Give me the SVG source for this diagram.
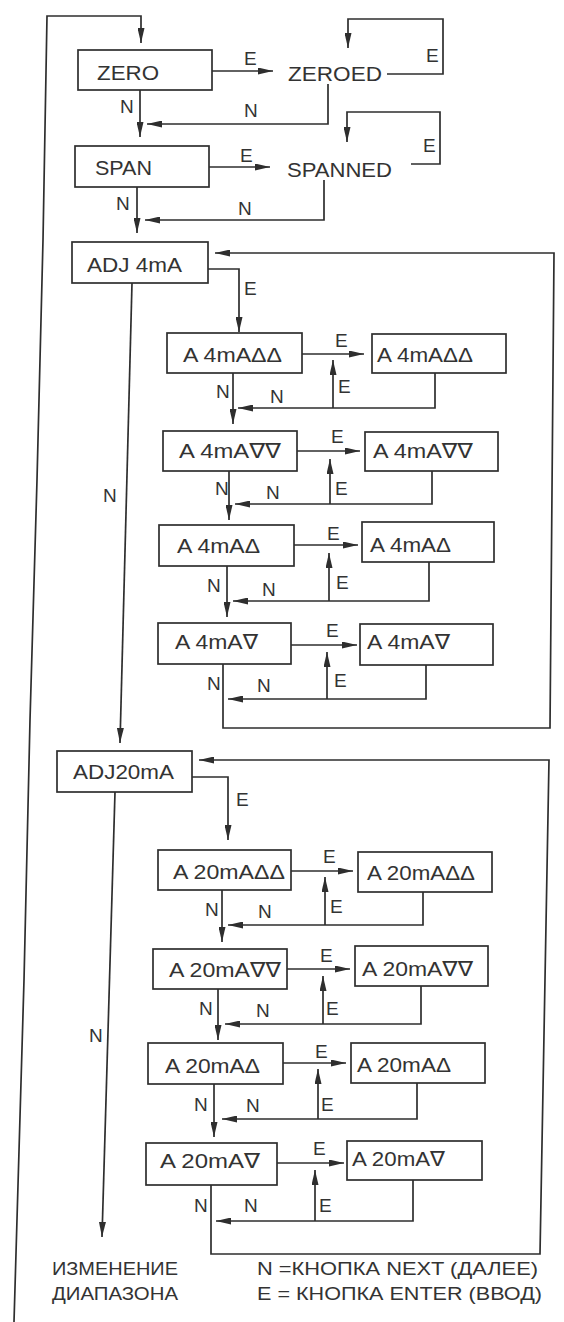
<svg xmlns="http://www.w3.org/2000/svg" width="564" height="1322" viewBox="0 0 564 1322">
<style>
  .bg { fill: #ffffff; }
  .box { fill: #ffffff; stroke: #2e2e2e; stroke-width: 1.7; }
  .t { font-family: "Liberation Sans", "DejaVu Sans", Arial, sans-serif; font-size: 21px; fill: #333333; }
  .lb { font-family: "Liberation Sans", "DejaVu Sans", Arial, sans-serif; font-size: 19px; fill: #333333; }
  .ft { font-family: "Liberation Sans", "DejaVu Sans", Arial, sans-serif; font-size: 19px; fill: #333333; }
  .c { fill: none; stroke: #2e2e2e; stroke-width: 1.7; }
  .a { fill: none; stroke: #2e2e2e; stroke-width: 1.7; marker-end: url(#arr); }
</style>
<defs>
  <marker id="arr" markerUnits="userSpaceOnUse" markerWidth="15" markerHeight="7" refX="15" refY="3.5" orient="auto">
    <path d="M0,0 L15,3.5 L0,7 z" fill="#2e2e2e"/>
  </marker>
</defs>
<rect class="bg" x="0" y="0" width="564" height="1322"/>

<g id="connectors">
  <!-- outer loop back to ZERO -->
  <path class="a" d="M14,1322 L24,980 L30,720 L37,480 L43,240 L47,16 L141,16 L141,43"/>
  <!-- ZERO / ZEROED -->
  <path class="a" d="M212,71 L273,71"/>
  <path class="a" d="M387,74 L443,74 L443,19 L348,19 L348,48"/>
  <path class="a" d="M328,84 L328,124 L147,124"/>
  <path class="a" d="M140,90 L140,137"/>
  <!-- SPAN / SPANNED -->
  <path class="a" d="M209,167 L270,167"/>
  <path class="a" d="M411,164 L440,164 L440,112 L347,112 L347,142"/>
  <path class="a" d="M324,180 L324,220 L145,220"/>
  <path class="a" d="M137,187 L137,233"/>
  <!-- ADJ 4mA -->
  <path class="a" d="M208,269 L239,269 L239,332"/>
  <path class="a" d="M132,283 L120,743"/>
  <path class="a" d="M223,664 L223,728 L550,728 L554,253 L215,253"/>
  <!-- 4mA row 1 -->
  <path class="a" d="M302,354 L364,354"/>
  <path class="a" d="M435,373 L435,408 L238,408"/>
  <path class="a" d="M333,408 L333,360"/>
  <path class="a" d="M233,373 L233,424"/>
  <!-- 4mA row 2 -->
  <path class="a" d="M297,451 L360,451"/>
  <path class="a" d="M432,471 L432,504 L235,504"/>
  <path class="a" d="M330,504 L330,459"/>
  <path class="a" d="M229,471 L229,520"/>
  <!-- 4mA row 3 -->
  <path class="a" d="M294,545 L358,545"/>
  <path class="a" d="M429,562 L429,601 L233,601"/>
  <path class="a" d="M329,601 L329,553"/>
  <path class="a" d="M227,566 L227,617"/>
  <!-- 4mA row 4 -->
  <path class="a" d="M291,645 L357,645"/>
  <path class="a" d="M426,665 L426,699 L228,699"/>
  <path class="a" d="M327,699 L327,652"/>
  <!-- ADJ20mA -->
  <path class="a" d="M192,777 L228,777 L228,840"/>
  <path class="a" d="M115,792 L102,1237"/>
  <path class="a" d="M211,1185 L211,1254 L540,1254 L549,760 L199,760"/>
  <!-- 20mA row 1 -->
  <path class="a" d="M291,871 L353,871"/>
  <path class="a" d="M423,892 L423,925 L228,925"/>
  <path class="a" d="M325,925 L325,877"/>
  <path class="a" d="M222,890 L222,942"/>
  <!-- 20mA row 2 -->
  <path class="a" d="M287,969 L350,969"/>
  <path class="a" d="M421,986 L421,1024 L225,1024"/>
  <path class="a" d="M323,1024 L323,976"/>
  <path class="a" d="M218,989 L218,1040"/>
  <!-- 20mA row 3 -->
  <path class="a" d="M283,1063 L346,1063"/>
  <path class="a" d="M417,1083 L417,1119 L222,1119"/>
  <path class="a" d="M318,1119 L318,1069"/>
  <path class="a" d="M214,1084 L214,1137"/>
  <!-- 20mA row 4 -->
  <path class="a" d="M277,1163 L344,1163"/>
  <path class="a" d="M413,1180 L413,1221 L216,1221"/>
  <path class="a" d="M315,1221 L315,1170"/>
</g>

<g id="connector-labels">
  <text class="lb" x="244" y="65">E</text>
  <text class="lb" x="426" y="62">E</text>
  <text class="lb" x="120" y="113">N</text>
  <text class="lb" x="244" y="117">N</text>
  <text class="lb" x="240" y="162">E</text>
  <text class="lb" x="423" y="152">E</text>
  <text class="lb" x="116" y="210">N</text>
  <text class="lb" x="238" y="215">N</text>
  <text class="lb" x="244" y="295">E</text>
  <text class="lb" x="103" y="502">N</text>
  <text class="lb" x="335" y="347">E</text>
  <text class="lb" x="338" y="393">E</text>
  <text class="lb" x="216" y="398">N</text>
  <text class="lb" x="270" y="403">N</text>
  <text class="lb" x="331" y="443">E</text>
  <text class="lb" x="335" y="495">E</text>
  <text class="lb" x="215" y="495">N</text>
  <text class="lb" x="266" y="499">N</text>
  <text class="lb" x="327" y="540">E</text>
  <text class="lb" x="336" y="589">E</text>
  <text class="lb" x="207" y="592">N</text>
  <text class="lb" x="262" y="596">N</text>
  <text class="lb" x="326" y="637">E</text>
  <text class="lb" x="334" y="687">E</text>
  <text class="lb" x="207" y="690">N</text>
  <text class="lb" x="257" y="692">N</text>
  <text class="lb" x="236" y="806">E</text>
  <text class="lb" x="89" y="1042">N</text>
  <text class="lb" x="323" y="863">E</text>
  <text class="lb" x="330" y="913">E</text>
  <text class="lb" x="205" y="916">N</text>
  <text class="lb" x="258" y="918">N</text>
  <text class="lb" x="320" y="962">E</text>
  <text class="lb" x="326" y="1015">E</text>
  <text class="lb" x="199" y="1015">N</text>
  <text class="lb" x="256" y="1017">N</text>
  <text class="lb" x="315" y="1058">E</text>
  <text class="lb" x="321" y="1111">E</text>
  <text class="lb" x="194" y="1111">N</text>
  <text class="lb" x="246" y="1112">N</text>
  <text class="lb" x="313" y="1155">E</text>
  <text class="lb" x="319" y="1212">E</text>
  <text class="lb" x="194" y="1212">N</text>
  <text class="lb" x="244" y="1212">N</text>
</g>

<g id="n-zero"><rect class="box" x="78" y="50" width="134" height="40"/><text class="t" x="97" y="80" textLength="62" lengthAdjust="spacingAndGlyphs">ZERO</text></g>
<g id="n-zeroed"><text class="t" x="288" y="81" textLength="94" lengthAdjust="spacingAndGlyphs">ZEROED</text></g>
<g id="n-span"><rect class="box" x="75" y="146" width="134" height="41"/><text class="t" x="95" y="175" textLength="57" lengthAdjust="spacingAndGlyphs">SPAN</text></g>
<g id="n-spanned"><text class="t" x="287" y="177" textLength="105" lengthAdjust="spacingAndGlyphs">SPANNED</text></g>
<g id="n-adj4"><rect class="box" x="72" y="242" width="136" height="41"/><text class="t" x="87" y="272" textLength="95" lengthAdjust="spacingAndGlyphs">ADJ 4mA</text></g>

<g id="n-4uu-l"><rect class="box" x="167" y="333" width="135" height="40"/><text class="t" x="183" y="362" textLength="99" lengthAdjust="spacingAndGlyphs">A 4mAΔΔ</text></g>
<g id="n-4uu-r"><rect class="box" x="372" y="334" width="134" height="39"/><text class="t" x="377" y="362" textLength="96" lengthAdjust="spacingAndGlyphs">A 4mAΔΔ</text></g>
<g id="n-4dd-l"><rect class="box" x="163" y="431" width="134" height="40"/><text class="t" x="179" y="458" textLength="102" lengthAdjust="spacingAndGlyphs">A 4mA∇∇</text></g>
<g id="n-4dd-r"><rect class="box" x="365" y="432" width="133" height="39"/><text class="t" x="373" y="458" textLength="100" lengthAdjust="spacingAndGlyphs">A 4mA∇∇</text></g>
<g id="n-4u-l"><rect class="box" x="159" y="525" width="135" height="41"/><text class="t" x="177" y="553" textLength="83" lengthAdjust="spacingAndGlyphs">A 4mAΔ</text></g>
<g id="n-4u-r"><rect class="box" x="362" y="522" width="132" height="40"/><text class="t" x="370" y="552" textLength="81" lengthAdjust="spacingAndGlyphs">A 4mAΔ</text></g>
<g id="n-4d-l"><rect class="box" x="158" y="623" width="133" height="41"/><text class="t" x="175" y="649" textLength="83" lengthAdjust="spacingAndGlyphs">A 4mA∇</text></g>
<g id="n-4d-r"><rect class="box" x="360" y="624" width="133" height="41"/><text class="t" x="367" y="649" textLength="83" lengthAdjust="spacingAndGlyphs">A 4mA∇</text></g>

<g id="n-adj20"><rect class="box" x="57" y="751" width="135" height="41"/><text class="t" x="73" y="779" textLength="101" lengthAdjust="spacingAndGlyphs">ADJ20mA</text></g>

<g id="n-20uu-l"><rect class="box" x="158" y="850" width="133" height="40"/><text class="t" x="173" y="879" textLength="112" lengthAdjust="spacingAndGlyphs">A 20mAΔΔ</text></g>
<g id="n-20uu-r"><rect class="box" x="358" y="852" width="134" height="40"/><text class="t" x="367" y="880" textLength="108" lengthAdjust="spacingAndGlyphs">A 20mAΔΔ</text></g>
<g id="n-20dd-l"><rect class="box" x="153" y="949" width="134" height="40"/><text class="t" x="169" y="977" textLength="112" lengthAdjust="spacingAndGlyphs">A 20mA∇∇</text></g>
<g id="n-20dd-r"><rect class="box" x="355" y="946" width="133" height="40"/><text class="t" x="362" y="976" textLength="111" lengthAdjust="spacingAndGlyphs">A 20mA∇∇</text></g>
<g id="n-20u-l"><rect class="box" x="148" y="1043" width="135" height="41"/><text class="t" x="165" y="1073" textLength="95" lengthAdjust="spacingAndGlyphs">A 20mAΔ</text></g>
<g id="n-20u-r"><rect class="box" x="351" y="1043" width="134" height="40"/><text class="t" x="357" y="1072" textLength="94" lengthAdjust="spacingAndGlyphs">A 20mAΔ</text></g>
<g id="n-20d-l"><rect class="box" x="146" y="1143" width="131" height="42"/><text class="t" x="160" y="1168" textLength="100" lengthAdjust="spacingAndGlyphs">A 20mA∇</text></g>
<g id="n-20d-r"><rect class="box" x="347" y="1141" width="135" height="39"/><text class="t" x="352" y="1166" textLength="93" lengthAdjust="spacingAndGlyphs">A 20mA∇</text></g>

<g id="n-range">
  <text class="ft" x="52" y="1275" textLength="126" lengthAdjust="spacingAndGlyphs">ИЗМЕНЕНИЕ</text>
  <text class="ft" x="52" y="1300" textLength="126" lengthAdjust="spacingAndGlyphs">ДИАПАЗОНА</text>
</g>
<g id="legend">
  <text class="ft" x="257" y="1275" textLength="281" lengthAdjust="spacingAndGlyphs">N =КНОПКА NEXT (ДАЛЕЕ)</text>
  <text class="ft" x="257" y="1300" textLength="285" lengthAdjust="spacingAndGlyphs">E = КНОПКА ENTER (ВВОД)</text>
</g>
</svg>
